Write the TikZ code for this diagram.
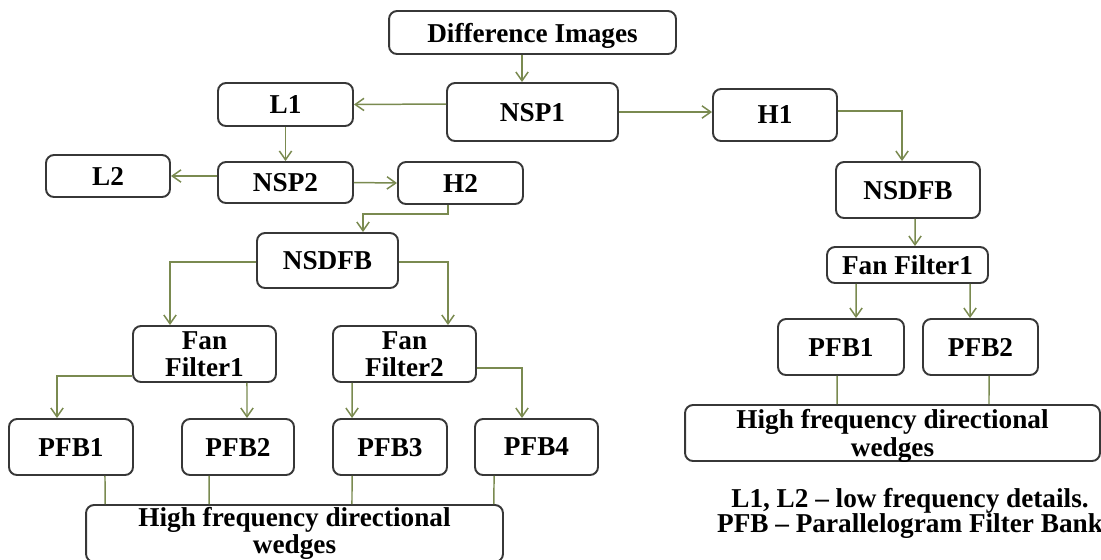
\documentclass[tikz,border=0pt]{standalone}
\usepackage{fontspec}
\setmainfont{Liberation Serif}
\usepackage{tikz}
\usetikzlibrary{arrows.meta}
\definecolor{linkgreen}{RGB}{122,138,80}
\definecolor{boxgray}{RGB}{55,55,55}

\begin{document}
\begin{tikzpicture}[x=0.02cm, y=-0.02cm,
        >={Straight Barb[length=5pt,width=7pt]},
        block/.style={draw=boxgray, line width=1.1pt, rounded corners=0.16cm,
            align=center, inner sep=0pt, text depth=0pt,
            font=\fontsize{15.5}{15.5}\selectfont\bfseries},
        link/.style={draw=linkgreen, line width=0.85pt}]
        \useasboundingbox (0,0) rectangle (1101,559);
        % top part
        \node[block, minimum width=5.74cm, minimum height=0.86cm] (Diff) at (532.5,32.5) {Difference Images};
        \node[block, minimum width=3.42cm, minimum height=1.16cm] (NSP1) at (532.5,112) {NSP1};
        \node[block, minimum width=2.7cm, minimum height=0.86cm] (L1) at (285.5,104.5) {L1};
        \node[block, minimum width=2.48cm, minimum height=1.04cm] (H1) at (775,115) {H1};
        \node[block, minimum width=2.7cm, minimum height=0.82cm] (NSP2) at (285.5,182.5) {NSP2};
        \node[block, minimum width=2.48cm, minimum height=0.84cm] (L2) at (108,176) {L2};
        \node[block, minimum width=2.5cm, minimum height=0.84cm] (H2) at (460.5,183) {H2};
        % left branch
        \node[block, minimum width=2.82cm, minimum height=1.1cm] (Left NSDFB) at (327.5,260.5) {NSDFB};
        \node[block, minimum width=2.86cm, minimum height=1.12cm] (Left FF1) at (204.5,354) {Fan\\Filter1};
        \node[block, minimum width=2.86cm, minimum height=1.12cm] (Left FF2) at (404.5,354) {Fan\\Filter2};
        \node[block, minimum width=2.48cm, minimum height=1.12cm] (Left PFB1) at (71,447) {PFB1};
        \node[block, minimum width=2.24cm, minimum height=1.12cm] (Left PFB2) at (238,447) {PFB2};
        \node[block, minimum width=2.28cm, minimum height=1.12cm] (Left PFB3) at (390,447) {PFB3};
        \node[block, minimum width=2.46cm, minimum height=1.12cm] (Left PFB4) at (536.5,447) {PFB4};
        \node[block, text depth={}, minimum width=8.34cm, minimum height=1.14cm] (Left HF) at (294.5,533.5) {High frequency directional\\wedges};
        % right branch
        \node[block, minimum width=2.88cm, minimum height=1.12cm] (Right NSDFB) at (908,190) {NSDFB};
        \node[block, minimum width=3.22cm, minimum height=0.72cm] (Right FF1) at (907.5,265) {Fan Filter1};
        \node[block, minimum width=2.52cm, minimum height=1.12cm] (Right PFB1) at (841,347) {PFB1};
        \node[block, minimum width=2.3cm, minimum height=1.12cm] (Right PFB2) at (980.5,347) {PFB2};
        \node[block, minimum width=8.3cm, minimum height=1.12cm] (Right HF) at (892.5,433) {High frequency directional\\wedges};
        \node[align=center, inner sep=0pt, font=\fontsize{15.5}{14.5}\selectfont\bfseries] (Legend) at (910,513.5)
            {L1, L2 -- low frequency details.\\PFB -- Parallelogram Filter Bank};
        % connectors
        \draw[link, ->] ([xshift=-0.21cm]Diff.south) -- ([xshift=-0.21cm]NSP1.north);
        \draw[link, ->] ([yshift=0.16cm]NSP1.west) -- (L1.east);
        \draw[link, ->] (NSP1.east) -- (NSP1.east -| H1.west);
        \draw[link, ->] (L1) -- (NSP2);
        \draw[link, ->] (NSP2.west |- L2.east) -- (L2.east);
        \draw[link, ->] (NSP2.east) -- (H2.west);
        \draw[link, ->] ([yshift=0.08cm]H1.east) -| ([xshift=-0.12cm]Right NSDFB.north);
        \draw[link, ->] ([xshift=-0.25cm]H2.south) -- ++(0,9) -| ([xshift=0.71cm]Left NSDFB.north);
        \draw[link, ->] ([yshift=-0.03cm]Left NSDFB.west) -| ([xshift=-0.69cm]Left FF1.north);
        \draw[link, ->] ([yshift=-0.03cm]Left NSDFB.east) -| ([xshift=0.87cm]Left FF2.north);
        \draw[link, ->] ([yshift=-0.44cm]Left FF1.west) -| ([xshift=-0.28cm]Left PFB1.north);
        \draw[link, ->] ([xshift=0.85cm]Left FF1.south) -- ([xshift=0.18cm]Left PFB2.north);
        \draw[link, ->] ([xshift=-1.05cm]Left FF2.south) -- ([xshift=-0.76cm]Left PFB3.north);
        \draw[link, ->] ([yshift=-0.28cm]Left FF2.east) -| ([xshift=-0.29cm]Left PFB4.north);
        \draw[link] ([xshift=0.68cm]Left PFB1.south) -- ([xshift=-3.79cm]Left HF.north);
        \draw[link] ([xshift=-0.58cm]Left PFB2.south) -- ([xshift=-1.71cm]Left HF.north);
        \draw[link] ([xshift=-0.76cm]Left PFB3.south) -- ([xshift=1.15cm]Left HF.north);
        \draw[link] ([xshift=-0.85cm]Left PFB4.south) -- ([xshift=3.99cm]Left HF.north);
        \draw[link, ->] ([xshift=0.14cm]Right NSDFB.south) -- ([xshift=0.15cm]Right FF1.north);
        \draw[link, ->] ([xshift=-1.03cm]Right FF1.south) -- ([xshift=0.3cm]Right PFB1.north);
        \draw[link, ->] ([xshift=1.25cm]Right FF1.south) -- ([xshift=-0.21cm]Right PFB2.north);
        \draw[link] ([xshift=-0.08cm]Right PFB1.south) -- ([xshift=-1.11cm]Right HF.north);
        \draw[link] ([xshift=0.17cm]Right PFB2.south) -- ([xshift=1.93cm]Right HF.north);
\end{tikzpicture}
\end{document}
